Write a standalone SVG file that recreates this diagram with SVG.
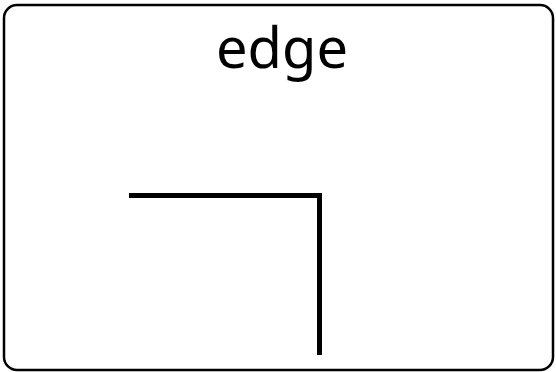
<svg xmlns="http://www.w3.org/2000/svg" width="556" height="372" viewBox="0 0 556 372">
<style>
.frame{fill:#fff;stroke:#000;stroke-width:2.5}
.lbl{font-family:"Noto Sans","DejaVu Sans",sans-serif;font-size:56px;fill:#000;text-anchor:middle}
.edge{fill:none;stroke:#000;stroke-width:5;stroke-linejoin:miter;stroke-linecap:butt}
</style>
<rect width="556" height="372" fill="#fff"/>
<g id="frame">
<rect class="frame" x="4" y="5" width="549" height="365" rx="13" ry="13"/>
<text class="lbl" x="282" y="68">edge</text>
</g>
<g id="connectors">
<path class="edge" d="M129 195.5 H319.5 V355"/>
</g>
</svg>
